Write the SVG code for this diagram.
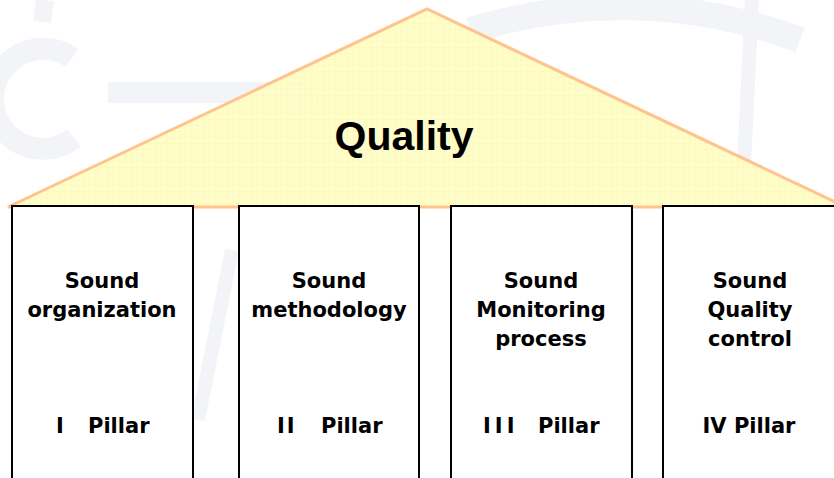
<svg xmlns="http://www.w3.org/2000/svg" width="834" height="478" viewBox="0 0 834 478">
  <defs>
    <pattern id="grid" width="6" height="6" patternUnits="userSpaceOnUse">
      <rect width="6" height="6" fill="#FFFDC6"/>
      <path d="M6 0V6M0 6H6" stroke="#FBF3A0" stroke-width="0.7" fill="none"/>
    </pattern>
    <style>
      .wm { fill: none; stroke: #F3F4F7; }
      .pillar rect { fill: #FFFFFF; stroke: #000000; stroke-width: 2; }
      .lbl { font-family: "DejaVu Sans", Verdana, sans-serif; font-weight: bold; font-size: 21px; fill: #000000; text-anchor: middle; }
      .num { font-family: "DejaVu Sans", Verdana, sans-serif; font-weight: bold; font-size: 21px; fill: #000000; }
      .title { font-family: "Liberation Sans", Arial, sans-serif; font-weight: bold; font-size: 41px; fill: #000000; text-anchor: middle; }
    </style>
  </defs>

  <!-- faint background logo -->
  <g id="watermark">
    <path class="wm" d="M72 58 A50 50 0 1 0 74 138" stroke-width="22"/>
    <rect x="108" y="82" width="205" height="21" fill="#F3F4F7"/>
    <path class="wm" d="M45 0 L42 22" stroke-width="18"/>
    <path class="wm" d="M470 30 Q640 -20 800 40" stroke-width="26"/>
    <path class="wm" d="M752 0 L742 205" stroke-width="14"/>
    <path class="wm" d="M232 250 L198 420" stroke-width="14"/>
  </g>

  <!-- roof -->
  <g id="roof">
    <polygon points="8,207 427,9 846,207" fill="url(#grid)" fill-opacity="0.92" stroke="#FFC48E" stroke-width="3" stroke-linejoin="miter"/>
    <text class="title" x="404" y="150">Quality</text>
  </g>

  <g id="pillar1" class="pillar">
    <rect x="12" y="206" width="181" height="280"/>
    <text class="lbl" x="102" y="288">Sound</text>
    <text class="lbl" x="102" y="317">organization</text>
    <text class="num" y="433"><tspan x="56">I</tspan><tspan x="88">Pillar</tspan></text>
  </g>

  <g id="pillar2" class="pillar">
    <rect x="239" y="206" width="180" height="280"/>
    <text class="lbl" x="329" y="288">Sound</text>
    <text class="lbl" x="329" y="317">methodology</text>
    <text class="num" y="433" letter-spacing="2"><tspan x="277">II</tspan><tspan x="321" letter-spacing="0">Pillar</tspan></text>
  </g>

  <g id="pillar3" class="pillar">
    <rect x="451" y="206" width="181" height="280"/>
    <text class="lbl" x="541" y="288">Sound</text>
    <text class="lbl" x="541" y="317">Monitoring</text>
    <text class="lbl" x="541" y="346">process</text>
    <text class="num" y="433" letter-spacing="4"><tspan x="483">III</tspan><tspan x="538" letter-spacing="0">Pillar</tspan></text>
  </g>

  <g id="pillar4" class="pillar">
    <rect x="663" y="206" width="180" height="280"/>
    <text class="lbl" x="750" y="288">Sound</text>
    <text class="lbl" x="750" y="317">Quality</text>
    <text class="lbl" x="750" y="346">control</text>
    <text class="lbl" x="749" y="433">IV Pillar</text>
  </g>

  <g id="connectors"/>
</svg>
